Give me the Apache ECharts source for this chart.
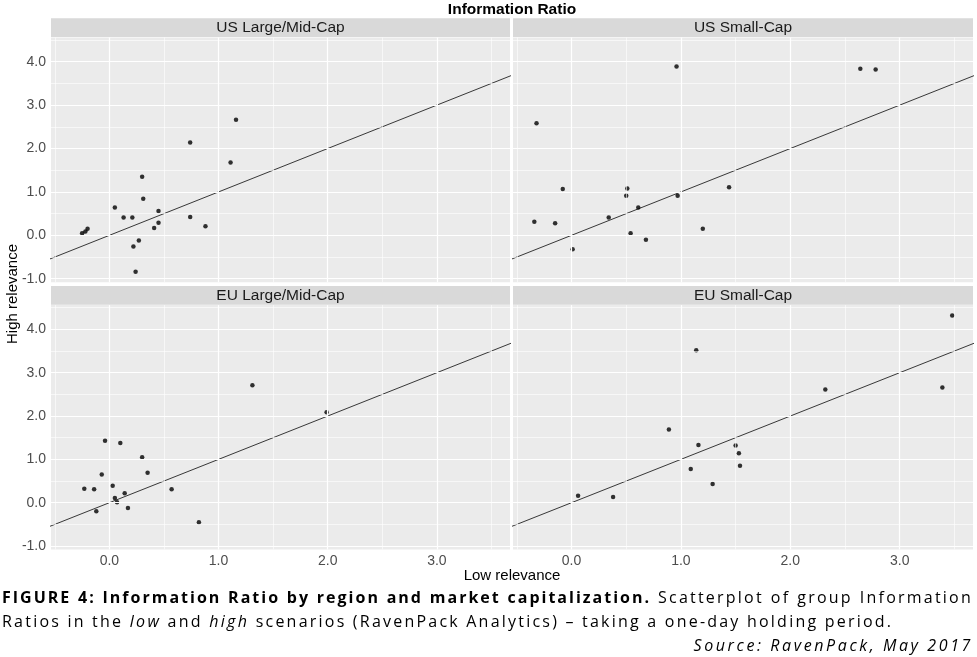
<!DOCTYPE html>
<html><head><meta charset="utf-8">
<script src="https://cdn.jsdelivr.net/npm/echarts@6/dist/echarts.min.js"></script>
<style>
html,body{margin:0;padding:0;background:#fff}
#wrap{position:relative;width:977px;height:657px;overflow:hidden}
#c{position:absolute;left:0;top:0;width:977px;height:657px}
#cap{position:absolute;left:2px;top:584.5px;width:971px;font-family:"Open Sans","Noto Sans",sans-serif;font-size:16px;line-height:24px;color:#000;letter-spacing:2.22px;white-space:nowrap}
#cap div{width:971px}
#cap .l1{text-align:justify;text-align-last:justify;white-space:normal}
#cap .l1 b{letter-spacing:2.0px}
#cap .l3{text-align:right;font-style:italic;letter-spacing:2.6px;margin-right:-2px}
#cap i{letter-spacing:2.35px}
</style>
</head><body><div id="wrap"><div id="c"></div>
<div id="cap">
<div class="l1"><b>FIGURE 4: Information Ratio by region and market capitalization.</b> Scatterplot of group Information</div>
<div class="l2">Ratios in the <i>low</i> and <i>high</i> scenarios (RavenPack Analytics) – taking a one-day holding period.</div>
<div class="l3">Source: RavenPack, May 2017</div>
</div></div>
<script>
// ---- data ----
const panelNames = ['US Large/Mid-Cap', 'US Small-Cap', 'EU Large/Mid-Cap', 'EU Small-Cap'];

const usLargeLow  = [-0.25, -0.22, -0.20, 0.05, 0.13, 0.21, 0.22, 0.24, 0.27, 0.30, 0.31, 0.41, 0.45, 0.45, 0.74, 0.74, 0.88, 1.11, 1.16];
const usLargeHigh = [0.05, 0.09, 0.15, 0.64, 0.41, 0.41, -0.26, -0.84, -0.12, 1.35, 0.84, 0.17, 0.56, 0.29, 0.42, 2.14, 0.21, 1.68, 2.66];

const usSmallLow  = [0.96, 2.64, 2.78, -0.32, -0.08, -0.34, -0.15, 0.01, 0.34, 0.50, 0.51, 0.54, 0.61, 0.68, 0.97, 1.20, 1.44];
const usSmallHigh = [3.89, 3.84, 3.82, 2.58, 1.07, 0.31, 0.28, -0.32, 0.41, 0.91, 1.08, 0.05, 0.64, -0.10, 0.91, 0.15, 1.11];

const euLargeLow  = [1.31, 1.99, -0.04, 0.10, 0.30, 0.35, -0.07, -0.23, -0.14, 0.03, 0.14, 0.05, 0.07, -0.12, 0.17, 0.57, 0.82];
const euLargeHigh = [2.71, 2.09, 1.43, 1.38, 1.05, 0.69, 0.65, 0.32, 0.31, 0.39, 0.22, 0.11, 0.01, -0.20, -0.12, 0.31, -0.45];

const euSmallLow  = [3.48, 1.14, 2.32, 3.39, 0.89, 1.16, 1.50, 1.53, 1.54, 1.09, 1.29, 0.06, 0.38];
const euSmallHigh = [4.32, 3.52, 2.61, 2.66, 1.69, 1.33, 1.32, 1.14, 0.85, 0.78, 0.43, 0.16, 0.13];

const xTickValues = [0, 1, 2, 3];
const yTickValues = [-1, 0, 1, 2, 3, 4];
const xMinorValues = [-0.5, 0.5, 1.5, 2.5, 3.5];
const yMinorValues = [-0.5, 0.5, 1.5, 2.5, 3.5, 4.5];
const identityEnds = [-2, 6]; // reference line y = x

const xRange = [-0.535, 3.67];
const yRange = [-1.08, 4.56];

// ---- build ----
const lows = [usLargeLow, usSmallLow, euLargeLow, euSmallLow];
const highs = [usLargeHigh, usSmallHigh, euLargeHigh, euSmallHigh];
const zip = (a, b) => a.map((v, i) => [v, b[i]]);

const FONT = '"Liberation Sans", Arial, sans-serif';
const gridPos = [
  {left: 51, top: 37.4, width: 459, height: 244.8},
  {left: 513, top: 37.4, width: 460, height: 244.8},
  {left: 51, top: 305.1, width: 459, height: 244.4},
  {left: 513, top: 305.1, width: 460, height: 244.4}
];

const grids = gridPos.map(g => Object.assign({show: true, backgroundColor: '#EBEBEB', borderWidth: 0, containLabel: false}, g));

const xAxes = gridPos.map((g, i) => {
  const bottom = i >= 2;
  return {
    type: 'value', gridIndex: i, min: xRange[0], max: xRange[1],
    axisLine: {show: false},
    splitLine: {show: false},
    axisTick: {show: bottom, length: 3, lineStyle: {color: '#333', width: 1}, customValues: xTickValues},
    axisLabel: {show: bottom, customValues: xTickValues, margin: 5, color: '#4D4D4D', fontSize: 14, fontFamily: FONT,
      formatter: v => v.toFixed(1)}
  };
});
const yAxes = gridPos.map((g, i) => {
  const left = i % 2 === 0;
  return {
    type: 'value', gridIndex: i, min: yRange[0], max: yRange[1],
    axisLine: {show: false},
    splitLine: {show: false},
    axisTick: {show: left, length: 3, lineStyle: {color: '#333', width: 1}, customValues: yTickValues},
    axisLabel: {show: left, customValues: yTickValues, margin: 5, color: '#4D4D4D', fontSize: 14, fontFamily: FONT,
      formatter: v => v.toFixed(1)}
  };
});

const series = [];
gridPos.forEach((g, i) => {
  const ml = [];
  xMinorValues.forEach(v => ml.push({xAxis: v, lineStyle: {color: '#FFFFFF', width: 0.6, type: 'solid'}}));
  yMinorValues.forEach(v => ml.push({yAxis: v, lineStyle: {color: '#FFFFFF', width: 0.6, type: 'solid'}}));
  xTickValues.forEach(v => ml.push({xAxis: v, lineStyle: {color: '#FFFFFF', width: 1.2, type: 'solid'}}));
  yTickValues.forEach(v => ml.push({yAxis: v, lineStyle: {color: '#FFFFFF', width: 1.2, type: 'solid'}}));
  series.push({
    type: 'line', xAxisIndex: i, yAxisIndex: i, data: [], z: 1, silent: true,
    markLine: {silent: true, symbol: ['none', 'none'], label: {show: false}, animation: false, data: ml}
  });
  series.push({
    type: 'line', xAxisIndex: i, yAxisIndex: i, z: 3, silent: true, clip: true,
    data: identityEnds.map(v => [v, v]), symbol: 'none',
    lineStyle: {color: '#222', width: 0.9}
  });
  series.push({
    type: 'scatter', xAxisIndex: i, yAxisIndex: i, z: 4, name: panelNames[i],
    data: zip(lows[i], highs[i]), symbol: 'circle', symbolSize: 4.5,
    itemStyle: {color: '#000'}
  });
});

const graphic = [];
// strips
gridPos.forEach((g, i) => {
  const top = i < 2 ? 18.3 : 286;
  graphic.push({type: 'rect', shape: {x: g.left, y: top, width: g.width, height: g.top - top - 0.4}, style: {fill: '#D9D9D9'}, silent: true});
  graphic.push({type: 'text', x: g.left + g.width / 2, y: top + (g.top - top) / 2, style: {text: panelNames[i], fill: '#1A1A1A', font: '15.5px ' + FONT, textAlign: 'center', textVerticalAlign: 'middle'}});
});
// titles
graphic.push({type: 'text', x: 512, y: 9.5, style: {text: 'Information Ratio', fill: '#000', font: 'bold 15.5px ' + FONT, textAlign: 'center', textVerticalAlign: 'middle'}});
graphic.push({type: 'text', x: 512, y: 576, style: {text: 'Low relevance', fill: '#000', font: '15px ' + FONT, textAlign: 'center', textVerticalAlign: 'middle'}});
graphic.push({type: 'text', x: 12.7, y: 294, rotation: Math.PI / 2, style: {text: 'High relevance', fill: '#000', font: '15px ' + FONT, textAlign: 'center', textVerticalAlign: 'middle'}});

const chart = echarts.init(document.getElementById('c'), null, {renderer: 'canvas'});
chart.setOption({
  animation: false,
  backgroundColor: 'transparent',
  grid: grids, xAxis: xAxes, yAxis: yAxes, series: series, graphic: graphic
});
</script></body></html>
